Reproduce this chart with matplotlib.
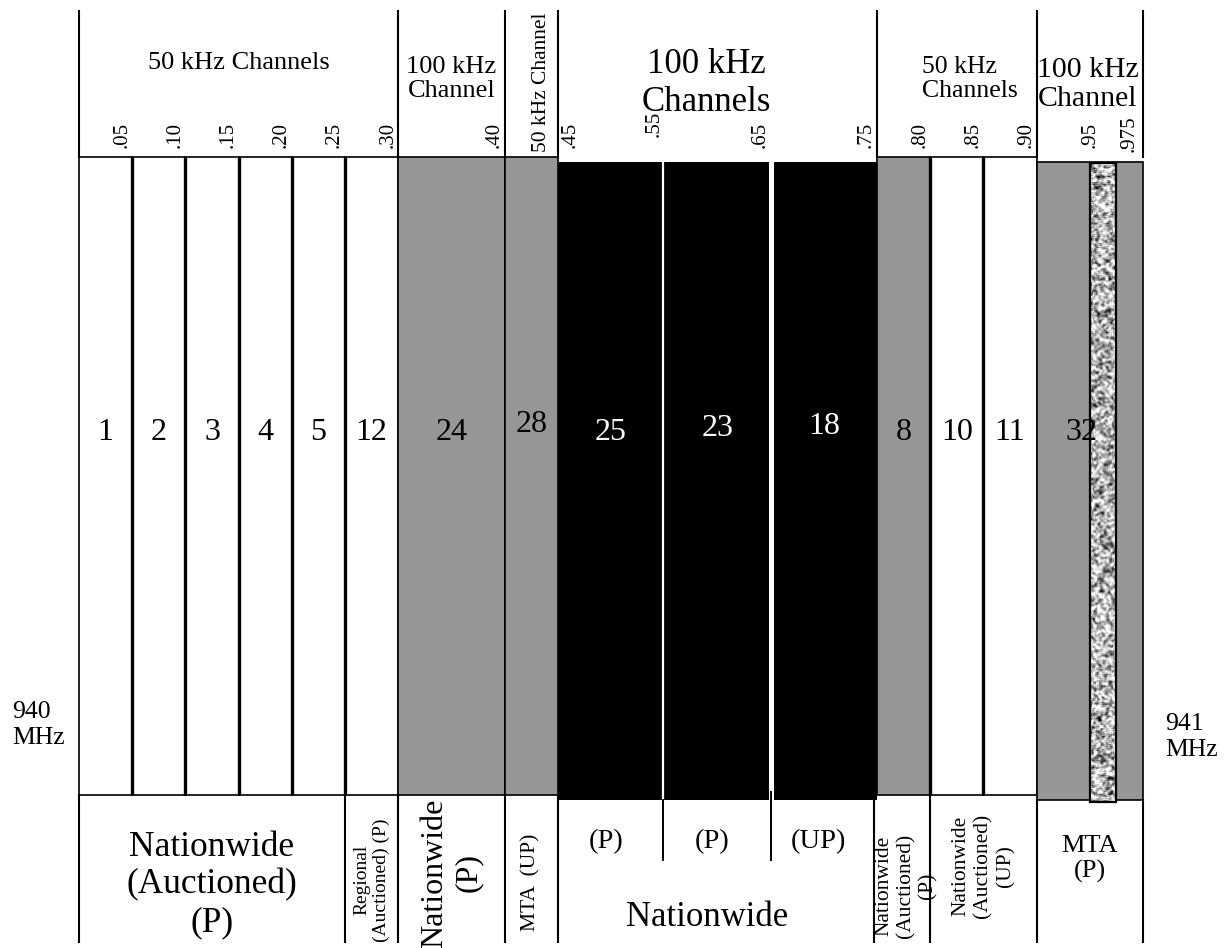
# 940-941 MHz narrowband PCS channel plan, redrawn as a block diagram
import numpy as np
import matplotlib.pyplot as plt
from matplotlib.patches import Rectangle

plt.rcParams.update({'font.family': ['Liberation Serif', 'DejaVu Serif']})

# channel blocks (MHz offset above 940 MHz)
ch_num = ['1', '2', '3', '4', '5', '12', '24', '28', '25', '23', '18', '8', '10', '11', '32']
ch_lo = [0.00, 0.05, 0.10, 0.15, 0.20, 0.25, 0.30, 0.40, 0.45, 0.55, 0.65, 0.75, 0.80, 0.85, 0.90]
ch_hi = [0.05, 0.10, 0.15, 0.20, 0.25, 0.30, 0.40, 0.45, 0.55, 0.65, 0.75, 0.80, 0.85, 0.90, 1.00]
ch_kind = ['white'] * 6 + ['gray', 'gray', 'black', 'black', 'black', 'gray', 'white', 'white', 'gray']
strip_lo, strip_hi = 0.95, 0.975

tick_freq = [0.05, 0.10, 0.15, 0.20, 0.25, 0.30, 0.40, 0.45, 0.55, 0.65, 0.75,
             0.80, 0.85, 0.90, 0.95, 0.975]
tick_text = ['.05', '.10', '.15', '.20', '.25', '.30', '.40', '.45', '.55', '.65', '.75',
             '.80', '.85', '.90', '.95', '.975']

hdr_edges = [0.00, 0.30, 0.40, 0.45, 0.75, 0.90, 1.00]
hdr_text = ['50 kHz Channels', '100 kHz\nChannel', '50 kHz Channel',
            '100 kHz\nChannels', '50 kHz\nChannels', '100 kHz\nChannel']

bot_edges = [0.00, 0.25, 0.30, 0.40, 0.45, 0.747, 0.80, 0.90, 1.00]
bot_text = ['Nationwide\n(Auctioned)\n(P)', 'Regional\n(Auctioned) (P)', 'Nationwide\n(P)',
            'MTA  (UP)', None, 'Nationwide\n(Auctioned)\n(P)',
            'Nationwide\n(Auctioned)\n(UP)', 'MTA\n(P)']
sub_lo = [0.45, 0.55, 0.65]
sub_hi = [0.55, 0.65, 0.75]
sub_text = ['(P)', '(P)', '(UP)']

GRAY = '#969696'
X0, PXM = 79, 1064.0        # left band edge (px) and px per MHz
def f(px):
    return (px - X0) / PXM

fig = plt.figure(figsize=(12.24, 9.48), dpi=100)
ax = fig.add_axes([0, 0, 1, 1])
ax.axis('off')

# --- channel blocks ---
for num, lo, hi, kind in zip(ch_num, ch_lo, ch_hi, ch_kind):
    if kind == 'black':
        ax.add_patch(Rectangle((lo, 162), hi - lo, 638, fc='black', ec='none'))
        tc = 'white'
    elif kind == 'gray':
        top, bot = (162, 800) if lo >= 0.9 else (157, 795)
        ax.add_patch(Rectangle((lo, top), hi - lo, bot - top, fc=GRAY, ec='black', lw=1.2))
        tc = 'black'
    else:
        ax.add_patch(Rectangle((lo, 157), hi - lo, 638, fc='white', ec='black', lw=1.2))
        tc = 'black'
    dy = {'28': -7, '23': -3, '18': -6}.get(num, 0)
    xc = (lo + hi) / 2 if num != '32' else f(1081)
    ax.text(xc, 432 + dy, num, color=tc, fontsize=23, ha='center', va='center', zorder=5)

# thick separators between white 50 kHz channels
for x in [0.05, 0.10, 0.15, 0.20, 0.25, 0.80, 0.85]:
    ax.plot([x, x], [157, 795], color='black', lw=2.4, solid_capstyle='butt')

# white gaps between the black 100 kHz channels
ax.plot([0.55 - 0.001, 0.55 - 0.001], [162, 800], color='white', lw=1.6)
ax.plot([0.65, 0.65], [162, 800], color='white', lw=3.6)
ax.plot([0.549, 0.549], [800, 860], color='black', lw=1.4)
ax.plot([0.650, 0.650], [792, 860], color='black', lw=1.4)

# granite-like strip between .95 and .975 (deterministic hash texture, smoothed)
jj, ii = np.mgrid[0:640, 0:26].astype(float)
h = np.sin(ii * 12.9898 + jj * 78.233) * 43758.5453
h = h - np.floor(h)
k = np.ones((3, 3)) / 9.0
pad = np.pad(h, 1, mode='edge')
sm = sum(pad[a:a + 640, b:b + 26] * k[a, b] for a in range(3) for b in range(3))
ax.imshow(sm, cmap='gray', vmin=0.22, vmax=0.62, extent=[strip_lo, strip_hi, 802, 163],
          aspect='auto', interpolation='bilinear', zorder=2)
ax.add_patch(Rectangle((strip_lo, 163), strip_hi - strip_lo, 639, fc='none',
                       ec='black', lw=1.6, zorder=3))

# --- header ---
for x in hdr_edges:
    ax.plot([x, x], [11, 157], color='black', lw=1.5)

hdr_style = [
    dict(x=0.150, y=63, fontsize=19),
    dict(x=0.350, y=79, fontsize=19, linespacing=1.15),
    dict(x=f(541), y=152, fontsize=15.5, rotation=90, va='bottom'),
    dict(x=f(706), y=83, fontsize=25, linespacing=1.2),
    dict(x=f(970), y=79, fontsize=18.5, linespacing=1.15, multialignment='left'),
    dict(x=0.948, y=84, fontsize=21.5, linespacing=1.15),
]
for txt, st in zip(hdr_text, hdr_style):
    st = dict(st)
    x, y = st.pop('x'), st.pop('y')
    st.setdefault('va', 'center')
    ax.text(x, y, txt, ha='center', **st)

# tick labels of channel edges
for fr, lab in zip(tick_freq, tick_text):
    ybot = {'.55': 137, '.975': 152}.get(lab, 148)
    if lab in ('.45', '.975'):
        ax.text(fr + 0.003, ybot, lab, rotation=90, fontsize=15, ha='left', va='bottom')
    elif lab == '.95':
        ax.text(fr, ybot, lab, rotation=90, fontsize=15, ha='center', va='bottom')
    else:
        ax.text(fr - 0.001, ybot, lab, rotation=90, fontsize=15, ha='right', va='bottom')

# --- bottom licensing section ---
for x in bot_edges:
    top = 800 if x > 0.74 and x != 0.80 else 795
    ax.plot([x, x], [top, 942], color='black', lw=1.5)

bot_style = [
    dict(y=885, fontsize=25.5, linespacing=1.18),
    dict(y=880, fontsize=14, rotation=90, linespacing=1.2),
    dict(y=873, fontsize=23, rotation=90, linespacing=1.25),
    dict(y=882, fontsize=15.5, rotation=90),
    None,
    dict(y=886, fontsize=15.5, rotation=90, linespacing=1.2, dx=0.004),
    dict(y=866, fontsize=15.5, rotation=90, linespacing=1.2),
    dict(y=859, fontsize=19, linespacing=1.2),
]
for lo, hi, txt, st in zip(bot_edges[:-1], bot_edges[1:], bot_text, bot_style):
    if txt is None:
        continue
    st = dict(st)
    y = st.pop('y')
    dx = st.pop('dx', 0)
    ax.text((lo + hi) / 2 + dx, y, txt, ha='center', va='center', **st)

for lo, hi, txt in zip(sub_lo, sub_hi, sub_text):
    ax.text((lo + hi) / 2 - 0.005, 842, txt, fontsize=20.5, ha='center', va='center')
ax.text(0.59, 918, 'Nationwide', fontsize=25, ha='center', va='center')

# band edge labels
ax.text(f(12), 725, '940\nMHz', fontsize=18.5, ha='left', va='center', linespacing=1.2)
ax.text(f(1165), 737, '941\nMHz', fontsize=18.5, ha='left', va='center', linespacing=1.2)

ax.set_xlim(f(0), f(1224))
ax.set_ylim(948, 0)

fig.savefig('out.png', dpi=100)
plt.close(fig)
